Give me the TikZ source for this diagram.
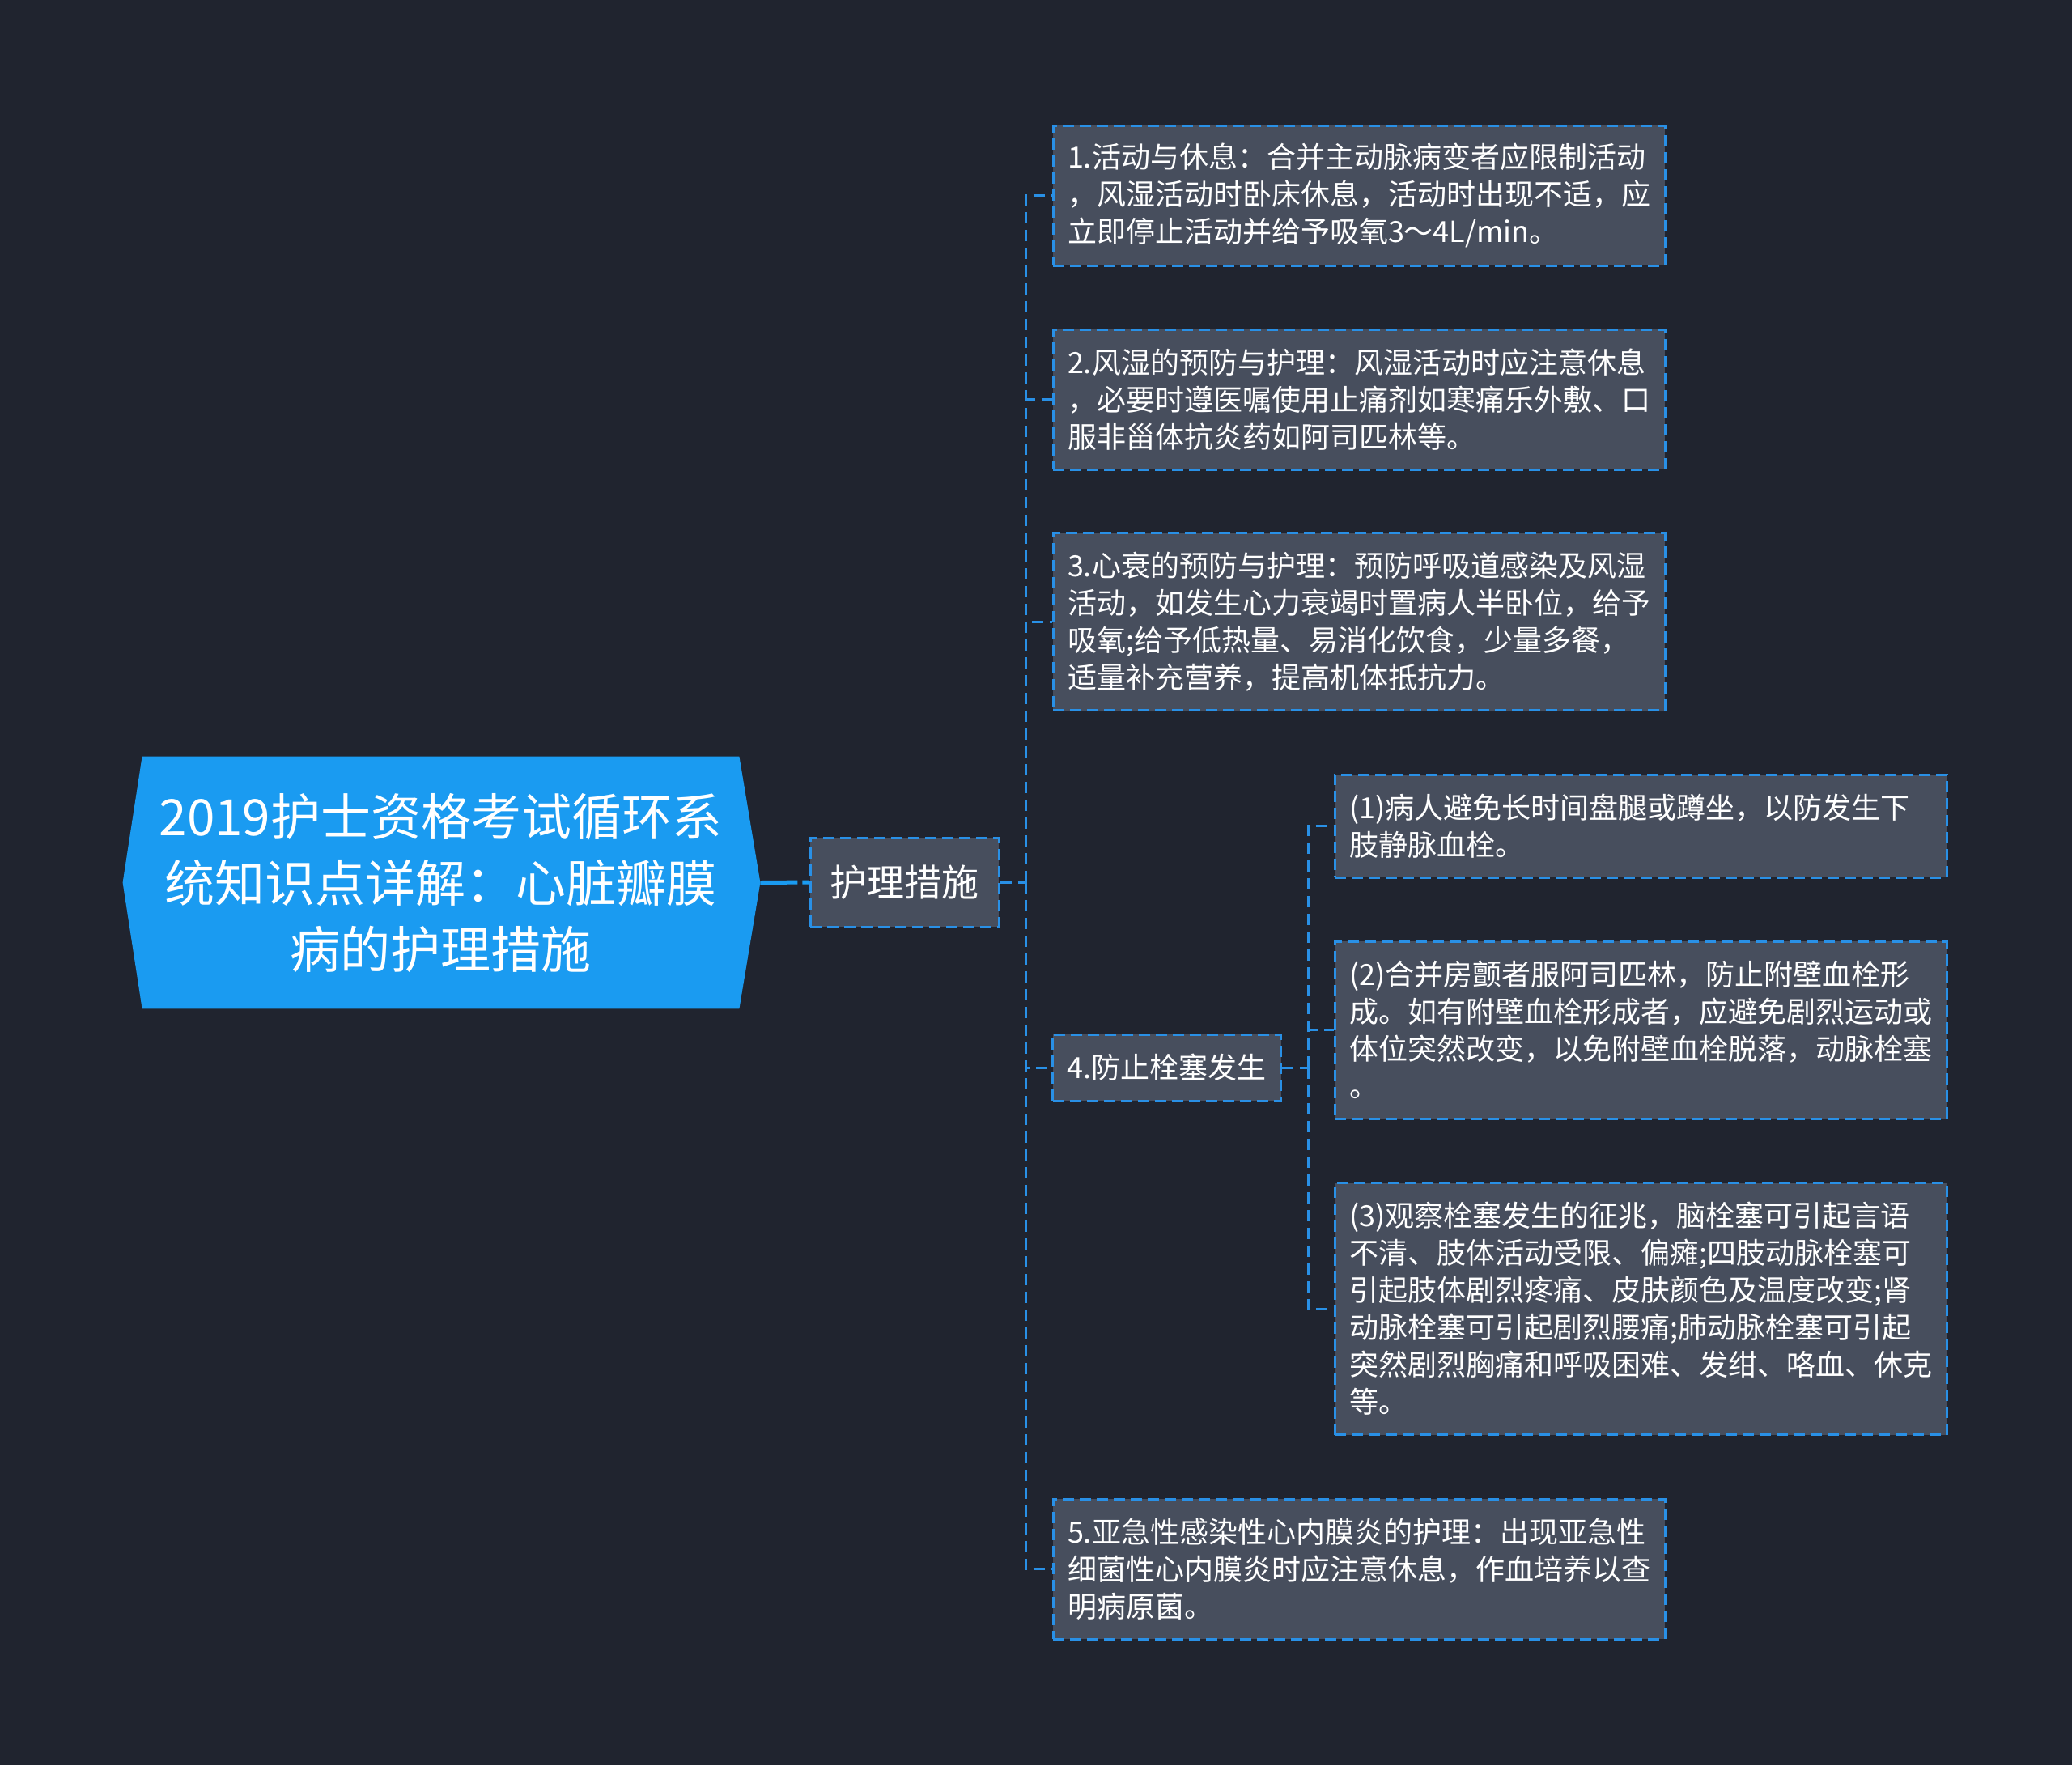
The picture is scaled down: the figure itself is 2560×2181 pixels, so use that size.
\documentclass[tikz,border=0pt]{standalone}
\usepackage{fontspec}
\setmainfont{Noto Sans CJK SC}
\usepackage{xcolor}
\usepackage{tikz}
\usetikzlibrary{backgrounds}
\definecolor{pagebg}{HTML}{20242F}
\definecolor{boxfill}{HTML}{474E5D}
\definecolor{linkblue}{HTML}{2990E6}
\definecolor{rootblue}{HTML}{1A9BF1}

\begin{document}
\begin{tikzpicture}[x=0.5pt,y=-0.5pt,
  every node/.style={text=white},
  root/.style={minimum width=368.5pt,minimum height=155.5pt,inner sep=0pt,
               align=center,font={\fontsize{31pt}{41pt}\selectfont}},
  topic/.style={draw=linkblue,line width=1.5pt,dash pattern=on 7pt off 3.5pt,
                fill=boxfill,inner xsep=9pt,inner ysep=4pt,
                font={\fontsize{18pt}{23pt}\selectfont}},
  leaf/.style={topic,text width=360pt,align=left,minimum height={23pt*#1+17.5pt}},
  link/.style={linkblue,line width=1.5pt,dash pattern=on 7pt off 4pt},
  rootlink/.style={rootblue,line width=2.5pt,dash pattern=on 23pt off 3pt on 5pt off 40pt},
]
\begin{scope}[on background layer]
  \fill[pagebg] (0,0) rectangle (2560,2181);
\end{scope}

% central topic
\node[root] (root) at (544.5,1090.5) {2019护士资格考试循环系\\统知识点详解：心脏瓣膜\\病的护理措施};
\begin{scope}[on background layer]
  \fill[rootblue] (root.north west) -- (root.north east) -- ([xshift=13pt]root.east)
    -- (root.south east) -- (root.south west) -- ([xshift=-12pt]root.west) -- cycle;
\end{scope}
\coordinate (roottip) at ([xshift=13pt]root.east);

% main branch
\node[topic,minimum width=116.5pt,minimum height=55pt,
      font={\fontsize{23pt}{28pt}\selectfont}] (care) at (1117.5,1090) {护理措施};

% subtopics
\node[leaf=3] (c1) at (1679,241.5) {1.活动与休息：合并主动脉病变者应限制活动\\，风湿活动时卧床休息，活动时出现不适，应\\立即停止活动并给予吸氧3～4L/min。};
\node[leaf=3] (c2) at (1679,493.5) {2.风湿的预防与护理：风湿活动时应注意休息\\，必要时遵医嘱使用止痛剂如寒痛乐外敷、口\\服非甾体抗炎药如阿司匹林等。};
\node[leaf=4] (c3) at (1679,768) {3.心衰的预防与护理：预防呼吸道感染及风湿\\活动，如发生心力衰竭时置病人半卧位，给予\\吸氧;给予低热量、易消化饮食，少量多餐，\\适量补充营养，提高机体抵抗力。};
\node[topic,minimum width=140.5pt,minimum height=41pt] (c4) at (1441.5,1319) {4.防止栓塞发生};
\node[leaf=3] (c5) at (1679,1938.5) {5.亚急性感染性心内膜炎的护理：出现亚急性\\细菌性心内膜炎时应注意休息，作血培养以查\\明病原菌。};

% details of 4
\node[leaf=2] (g1) at (2027,1020.5) {(1)病人避免长时间盘腿或蹲坐，以防发生下\\肢静脉血栓。};
\node[leaf=4] (g2) at (2027,1272.5) {(2)合并房颤者服阿司匹林，防止附壁血栓形\\成。如有附壁血栓形成者，应避免剧烈运动或\\体位突然改变，以免附壁血栓脱落，动脉栓塞\\。};
\node[leaf=6] (g3) at (2027,1617) {(3)观察栓塞发生的征兆，脑栓塞可引起言语\\不清、肢体活动受限、偏瘫;四肢动脉栓塞可\\引起肢体剧烈疼痛、皮肤颜色及温度改变;肾\\动脉栓塞可引起剧烈腰痛;肺动脉栓塞可引起\\突然剧烈胸痛和呼吸困难、发绀、咯血、休克\\等。};

% connectors
\coordinate (j1) at (1267,1090);
\coordinate (j2) at (1616,1319);
\draw[rootlink] (roottip) -- (care.west);
\draw[link] (care.east) -- (j1);
\foreach \n in {c1,c2,c3,c4,c5}
  \draw[link] (j1) |- (\n.west);
\draw[link] (c4.east) -- (j2);
\foreach \n in {g1,g2,g3}
  \draw[link] (j2) |- (\n.west);
\end{tikzpicture}
\end{document}
